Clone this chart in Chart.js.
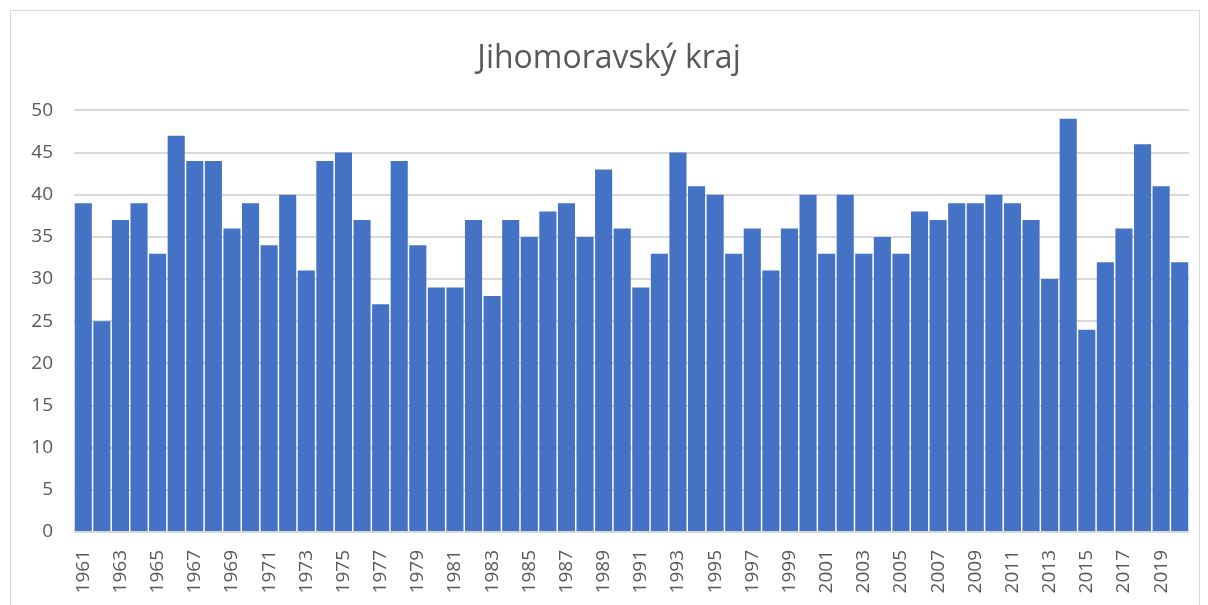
<!DOCTYPE html>
<html>
<head>
<meta charset="utf-8">
<script src="https://cdn.jsdelivr.net/npm/chart.js@4"></script>
<style>
  html, body { margin: 0; padding: 0; background: #ffffff; }
  #wrap { position: absolute; left: 10px; top: 10px; width: 1190px; height: 600px; border: 1px solid #d9d9d9; box-sizing: border-box; }
  #c { position: absolute; left: 0; top: 0; }
</style>
</head>
<body>
<div id="wrap"><canvas id="c" width="1188" height="595"></canvas></div>
<script>
const years = [];
for (let y = 1961; y <= 2020; y++) years.push(String(y));
const values = [39, 25, 37, 39, 33, 47, 44, 44, 36, 39,
                34, 40, 31, 44, 45, 37, 27, 44, 34, 29,
                29, 37, 28, 37, 35, 38, 39, 35, 43, 36,
                29, 33, 45, 41, 40, 33, 36, 31, 36, 40,
                33, 40, 33, 35, 33, 38, 37, 39, 39, 40,
                39, 37, 30, 49, 24, 32, 36, 46, 41, 32];
const titleText = 'Jihomoravský kraj';
const yMin = 0, yMax = 50, yStep = 5;

const FONT = "'Open Sans', 'Liberation Sans', sans-serif";
const TXT = '#595959';

new Chart(document.getElementById('c'), {
  type: 'bar',
  data: {
    labels: years,
    datasets: [{
      data: values,
      backgroundColor: '#4472C4',
      borderWidth: 0,
      categoryPercentage: 0.92,
      barPercentage: 1.0
    }]
  },
  options: {
    responsive: false,
    animation: false,
    layout: { padding: { left: 18, right: 10, top: 0, bottom: 0 } },
    plugins: {
      legend: { display: false },
      tooltip: { enabled: false },
      title: {
        display: true,
        text: titleText,
        color: TXT,
        font: { family: FONT, size: 32, weight: 'normal' },
        padding: { top: 29, bottom: 32 }
      }
    },
    scales: {
      x: {
        grid: { display: false },
        border: { display: false },
        ticks: {
          autoSkip: false,
          minRotation: 90,
          maxRotation: 90,
          padding: 10,
          color: TXT,
          font: { family: FONT, size: 19 },
          callback: function(v, i) { return i % 2 === 0 ? this.getLabelForValue(v) : ''; }
        },
        afterFit: function(s) { s.height = 74; s.paddingLeft = 0; s.paddingRight = 0; }
      },
      y: {
        min: yMin,
        max: yMax,
        ticks: {
          stepSize: yStep,
          color: TXT,
          padding: 21,
          font: { family: FONT, size: 19 }
        },
        grid: { color: '#d9d9d9', lineWidth: 2, drawTicks: false },
        border: { display: false },
        afterFit: function(s) { s.width = 45; s.paddingTop = 0; s.paddingBottom = 0; }
      }
    }
  }
});
</script>
</body>
</html>
